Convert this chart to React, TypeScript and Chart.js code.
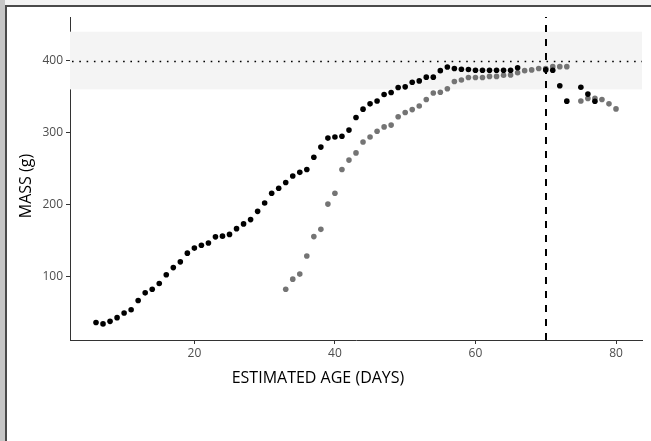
import React, { useEffect, useRef } from "react";
import { Chart, registerables } from "chart.js";

Chart.register(...registerables);

// Black series (days, mass g)
const blackDays = [6, 7, 8, 9, 10, 11, 12, 13, 14, 15, 16, 17, 18, 19, 20, 21, 22, 23, 24, 25, 26, 27, 28, 29, 30, 31, 32, 33, 34, 35, 36, 37, 38, 39, 40, 41, 42, 43, 44, 45, 46, 47, 48, 49, 50, 51, 52, 53, 54, 55, 56, 57, 58, 59, 60, 61, 62, 63, 64, 65, 66, 70, 71, 72, 73, 75, 76, 77];
const blackMass = [37, 35, 38.5, 43.6, 50, 54.6, 67.5, 78, 83, 91, 103, 113, 121, 133, 140, 144, 147, 155.6, 156.6, 159, 167, 173.6, 179.5, 191, 202.6, 216, 223, 231, 240, 245, 249, 266, 280, 292.5, 294, 295, 303.6, 321, 332.6, 340, 344, 353, 355.7, 362.6, 363.5, 370, 371.8, 377, 377, 386, 391, 389, 388, 387.5, 386.6, 386.6, 386.6, 386.6, 386.6, 386.6, 390, 387, 386.6, 365, 343.7, 363, 353.5, 343.5];

// Grey series
const greyDays = [33, 34, 35, 36, 37, 38, 39, 40, 41, 42, 43, 44, 45, 46, 47, 48, 49, 50, 51, 52, 53, 54, 55, 56, 57, 58, 59, 60, 61, 62, 63, 64, 65, 66, 67, 68, 69, 70, 71, 72, 73, 75, 76, 77, 78, 79, 80];
const greyMass = [83, 97, 104, 129, 156, 166, 201, 216, 249, 262, 272, 287, 294, 302, 308, 310.5, 322, 328, 332, 337, 346, 355, 356, 361, 371, 373, 376.5, 376.5, 376.5, 378, 378, 379.6, 380, 383, 386, 387, 389, 389, 391.5, 391.5, 391.5, 344, 347.5, 347.5, 346, 340, 333];

const xTicks = [20, 40, 60, 80];
const yTicks = [100, 200, 300, 400];

const xTitle = "ESTIMATED AGE (DAYS)";
const yTitle = "MASS (g)";

const bandLow = 360;
const bandHigh = 440;
const refMass = 400;
const refAge = 70;

const xMin = 2.3;
const xMax = 83.7;
const yMin = 12.65;
const yMax = 460.35;

const refPlugin = {
  id: "refs",
  beforeDatasetsDraw(chart: any) {
    const { ctx, chartArea, scales } = chart;
    const y1 = scales.y.getPixelForValue(bandHigh);
    const y2 = scales.y.getPixelForValue(bandLow);
    ctx.save();
    ctx.fillStyle = "#f4f4f4";
    ctx.fillRect(chartArea.left, y1, chartArea.right - chartArea.left, y2 - y1);
    ctx.restore();
  },
  afterDatasetsDraw(chart: any) {
    const { ctx, chartArea, scales } = chart;
    ctx.save();
    // dotted horizontal line
    const yy = Math.round(scales.y.getPixelForValue(refMass)) + 0.5;
    ctx.strokeStyle = "#000";
    ctx.lineWidth = 1.6;
    ctx.setLineDash([1.6, 5.7]);
    ctx.beginPath();
    ctx.moveTo(chartArea.left + 2, yy);
    ctx.lineTo(chartArea.right, yy);
    ctx.stroke();
    // dashed vertical line
    const xx = Math.round(scales.x.getPixelForValue(refAge));
    ctx.lineWidth = 2;
    ctx.setLineDash([7, 7]);
    ctx.beginPath();
    ctx.moveTo(xx, chartArea.bottom);
    ctx.lineTo(xx, chartArea.top);
    ctx.stroke();
    ctx.restore();
  },
  afterDraw(chart: any) {
    const { ctx } = chart;
    ctx.save();
    ctx.fillStyle = "#000";
    ctx.font = '16px "Open Sans"';
    ctx.textAlign = "center";
    ctx.textBaseline = "middle";
    ctx.fillText(xTitle, 318, 378);
    ctx.translate(26, 186);
    ctx.rotate(-Math.PI / 2);
    ctx.fillText(yTitle, 0, 0);
    ctx.restore();
  },
};

export default function App() {
  const ref = useRef<HTMLCanvasElement>(null);
  useEffect(() => {
    document.body.style.margin = "0";
    const chart = new Chart(ref.current as HTMLCanvasElement, {
      type: "scatter",
      data: {
        datasets: [
          {
            label: "A",
            data: blackDays.map((d, i) => ({ x: d, y: blackMass[i] })),
            backgroundColor: "#000000",
            borderWidth: 0,
            pointRadius: 2.8,
          },
          {
            label: "B",
            data: greyDays.map((d, i) => ({ x: d, y: greyMass[i] })),
            backgroundColor: "#747474",
            borderWidth: 0,
            pointRadius: 2.8,
          },
        ],
      },
      options: {
        responsive: false,
        animation: false,
        layout: { padding: { left: 0, right: 9, top: 17, bottom: 41 } },
        plugins: { legend: { display: false }, tooltip: { enabled: false } },
        scales: {
          x: {
            type: "linear",
            min: xMin,
            max: xMax,
            afterBuildTicks: (s: any) => {
              s.ticks = xTicks.map((v) => ({ value: v }));
            },
            afterFit: (s: any) => {
              s.height = 60;
            },
            border: { display: true, color: "#333", width: 1 },
            grid: { drawOnChartArea: false, drawTicks: true, tickLength: 4, color: "#333" },
            ticks: { color: "#4d4d4d", font: { family: "Open Sans", size: 12 }, padding: 2, maxRotation: 0 },
            title: { display: false },
          },
          y: {
            type: "linear",
            min: yMin,
            max: yMax,
            afterBuildTicks: (s: any) => {
              s.ticks = yTicks.map((v) => ({ value: v }));
            },
            afterFit: (s: any) => {
              s.width = 70;
            },
            border: { display: true, color: "#333", width: 1 },
            grid: { drawOnChartArea: false, drawTicks: true, tickLength: 4, color: "#333" },
            ticks: { color: "#4d4d4d", font: { family: "Open Sans", size: 12 }, padding: 3 },
            title: { display: false },
          },
        },
      },
      plugins: [refPlugin],
    } as any);
    return () => chart.destroy();
  }, []);
  return (
    <div style={{ position: "fixed", left: 0, top: 0, width: 651, height: 441, background: "#f3f3f3", overflow: "hidden" }}>
      <div style={{ position: "absolute", left: 0, top: 0, width: 5, height: 441, background: "#c6c6c6" }} />
      <div
        style={{
          position: "absolute",
          left: 5,
          top: 5,
          right: 0,
          bottom: 0,
          background: "#ffffff",
          borderLeft: "2px solid #4a4a4a",
          borderTop: "2px solid #4a4a4a",
        }}
      />
      <canvas ref={ref} width={651} height={441} style={{ position: "absolute", left: 0, top: 0 }} />
    </div>
  );
}
